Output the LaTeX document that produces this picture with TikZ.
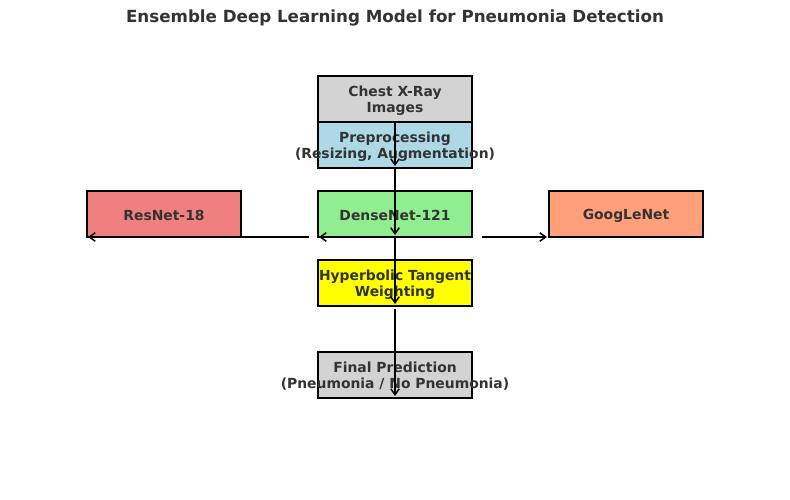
\documentclass[tikz,border=0pt]{standalone}
\usepackage{fontspec}
\setmainfont{DejaVu Sans}
\usetikzlibrary{arrows.meta}
\definecolor{txt}{HTML}{333333}
\definecolor{lgray}{HTML}{D3D3D3}
\definecolor{lblue}{HTML}{ADD8E6}
\definecolor{lcoral}{HTML}{F08080}
\definecolor{lgreen}{HTML}{90EE90}
\definecolor{lsalmon}{HTML}{FFA07A}
\definecolor{yel}{HTML}{FFFF00}
% a centred line of text that may run past the box edges
\newcommand{\boxline}[1]{\makebox[0pt][c]{#1}}
\begin{document}
\begin{tikzpicture}[x=1pt,y=-1pt,
  box/.style={draw=black, line width=1.5pt, minimum width=154pt, minimum height=46pt, inner sep=0pt},
  boxtext/.style={yshift=-1.5pt, inner sep=0pt, align=center, text=txt,
    font=\fontsize{13.9}{16.2}\selectfont\bfseries},
  arr/.style={-{Straight Barb[length=6pt,width=8.5pt,line width=1.5pt]}, line width=1.5pt, black}]
\useasboundingbox (0,0) rectangle (790,500);
\fill[white] (0,0) rectangle (790,500);

\node[text=txt, font=\fontsize{16.7}{18}\selectfont\bfseries] (title) at (395,18) {Ensemble Deep Learning Model for Pneumonia Detection};

% processing blocks
\node[box, fill=lgray,   label={[boxtext]center:{\boxline{Chest X-Ray}\\\boxline{Images}}}] (chest) at (395,99) {};
\node[box, fill=lblue,   label={[boxtext]center:{\boxline{Preprocessing}\\\boxline{(Resizing, Augmentation)}}}] (prep) at (395,145) {};
\node[box, fill=lcoral,  label={[boxtext]center:{\boxline{ResNet-18}}}] (resnet) at (164,214) {};
\node[box, fill=lgreen,  label={[boxtext]center:{\boxline{DenseNet-121}}}] (dense) at (395,214) {};
\node[box, fill=lsalmon, label={[boxtext]center:{\boxline{GoogLeNet}}}] (google) at (626,214) {};
\node[box, fill=yel,     label={[boxtext]center:{\boxline{Hyperbolic Tangent}\\\boxline{Weighting}}}] (hyper) at (395,283) {};
\node[box, fill=lgray,   label={[boxtext]center:{\boxline{Final Prediction}\\\boxline{(Pneumonia / No Pneumonia)}}}] (final) at (395,375) {};

% arrow end points
\coordinate (e1) at (395,166);
\coordinate (s2) at (395,168);
\coordinate (e2) at (395,235);
\coordinate (s3) at (395,238);
\coordinate (e3) at (395,304);
\coordinate (s4) at (395,309);
\coordinate (e4) at (395,396);
\coordinate (sl) at (309,237);
\coordinate (el) at (88,237);
\coordinate (sd) at (470,237);
\coordinate (ed) at (319,237);
\coordinate (sr) at (482,237);
\coordinate (er) at (547,237);

% connectors
\draw[arr] (chest.south) -- (e1);
\draw[arr] (s2) -- (e2);
\draw[arr] (s3) -- (e3);
\draw[arr] (s4) -- (e4);
\draw[arr] (sl) -- (el);
\draw[arr] (sd) -- (ed);
\draw[arr] (sr) -- (er);
\end{tikzpicture}
\end{document}
